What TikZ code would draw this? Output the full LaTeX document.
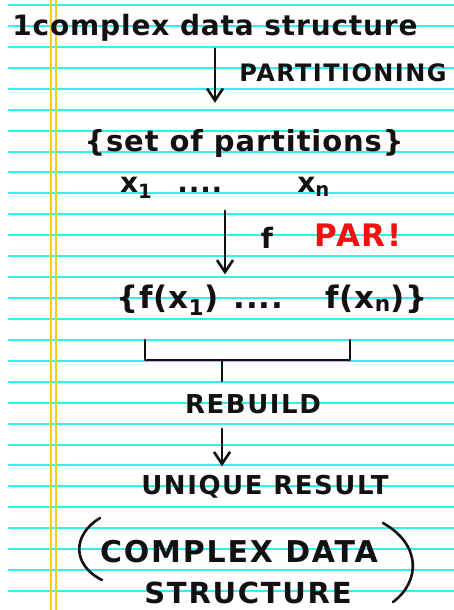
\documentclass[tikz,border=0pt]{standalone}
\usepackage{fontspec}
\setsansfont{DejaVu Sans}
\newfontfamily\capsfont[LetterSpace=6]{DejaVu Sans Bold}
\newfontfamily\lowfont[LetterSpace=3]{DejaVu Sans Bold}
\usepackage{xcolor}
\definecolor{cRule}{HTML}{33F0F0}
\definecolor{cMargin}{HTML}{FFC824}
\definecolor{cInk}{HTML}{111111}
\definecolor{cRed}{HTML}{F21010}
\usetikzlibrary{arrows.meta,calc}
\tikzset{
  rule-line/.style={draw=cRule,line width=2pt},
  margin-line/.style={draw=cMargin,line width=1.5pt},
  ink/.style={draw=cInk,line width=2.6pt,line cap=round,line join=round},
  arrow/.style={ink,-{Straight Barb[length=12pt,width=16pt,line width=2.6pt]}},
  node-low/.style={inner sep=0pt,text=cInk,font=\lowfont\fontsize{#1}{#1}\selectfont},
  node-caps/.style={inner sep=0pt,text=cInk,font=\capsfont\fontsize{#1}{#1}\selectfont},
}
\begin{document}
\begin{tikzpicture}[x=1pt,y=-1pt]
  \fill[white] (0,0) rectangle (454,610);
  \useasboundingbox (0,0) rectangle (454,610);
  % lined paper
  \foreach \k in {0,...,28}{
    \pgfmathsetmacro\ry{round(5+20.93*\k)}
    \draw[rule-line] (8,\ry) -- (454,\ry);
  }
  \draw[margin-line] (51,0) -- (51,610);
  \draw[margin-line] (56,0) -- (56,610);

  \node[node-low=28]           (title)   at (215,28)  {1complex data structure};
  \node[node-caps=24]          (part)    at (343,73)  {PARTITIONING};
  \node[node-low=29]           (set)     at (244,143) {\{set of partitions\}};
  \node[node-low=28]           (xs)      at (225,188) {x\textsubscript{1}\hspace{25pt}....\hspace{75pt}x\textsubscript{n}};
  \node[node-low=28]           (f)       at (267,238) {f};
  \node[node-caps=31,text=cRed] (par)    at (358,235) {PAR!};
  \node[node-low=31]           (fx)      at (272,300) {\{f(x\textsubscript{1})\hspace{15pt}....\hspace{42pt}f(x\textsubscript{n})\}};
  \node[node-caps=26]          (rebuild) at (253,404) {REBUILD};
  \node[node-caps=26]          (unique)  at (265,487) {UNIQUE RESULT};
  \node[node-caps=30]          (cds)     at (239,552) {COMPLEX DATA};
  \node[node-caps=29]          (struct)  at (248,593) {STRUCTURE};

  \coordinate (join) at (222,360);
  \draw[arrow,shorten <=7pt,shorten >=26pt] (title.south) -- (title.south |- set.north);
  \draw[arrow,shorten <=12pt,shorten >=10pt] (xs.south) -- (xs.south |- fx.north);
  \draw[ink] (145,340) -- (145,360) -- (350,360) -- (350,340);
  \draw[ink,shorten >=13pt] (join) -- (join |- rebuild.north);
  \draw[arrow,shorten <=15pt,shorten >=9pt] (rebuild.south -| join) -- (join |- unique.north);
  % brackets round the last two lines
  \draw[ink] (100,518) .. controls (72,535) and (72,565) .. (102,580);
  \draw[ink] (383,523) .. controls (422,545) and (420,582) .. (393,602);
\end{tikzpicture}
\end{document}
